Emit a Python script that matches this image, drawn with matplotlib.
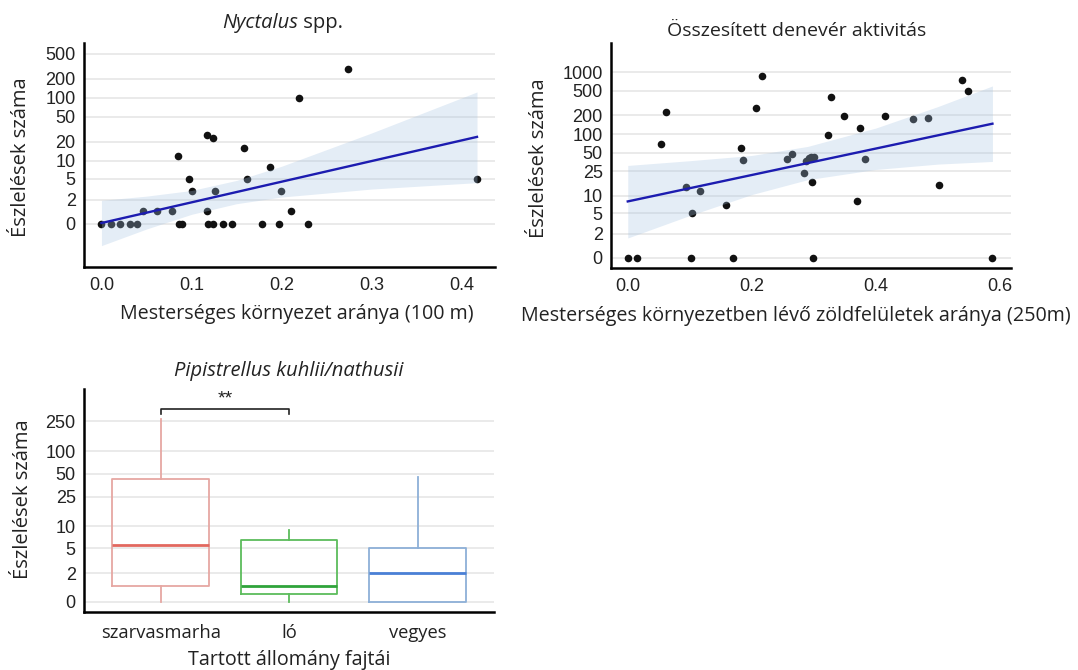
import matplotlib
matplotlib.use("Agg")
import matplotlib.pyplot as plt
import numpy as np

# --- Nyctalus spp. (panel 1) ---
nyc_x = [0.000, 0.011, 0.021, 0.032, 0.039, 0.086, 0.089, 0.118, 0.124, 0.135, 0.145, 0.178, 0.197, 0.229,
         0.046, 0.062, 0.078, 0.117, 0.210,
         0.100, 0.126, 0.199,
         0.097, 0.162, 0.417,
         0.187, 0.085, 0.158, 0.117, 0.124, 0.219, 0.274]
nyc_y = [0, 0, 0, 0, 0, 0, 0, 0, 0, 0, 0, 0, 0, 0,
         1, 1, 1, 1, 1,
         3, 3, 3,
         5, 5, 5,
         8, 12, 16, 26, 23, 100, 290]
nyc_fit_x = [0.0, 0.417]
nyc_fit_y = [0.07, 24]
nyc_ci_x = [0.0, 0.05, 0.1, 0.15, 0.2, 0.3, 0.417]
nyc_ci_lo = [-1.75, -0.37, 0.72, 1.62, 2.3, 3.3, 4.3]
nyc_ci_hi = [1.95, 2.4, 3.1, 4.7, 8.1, 27.7, 124]
nyc_ticks = [0, 2, 5, 10, 20, 50, 100, 200, 500]
nyc_xticks = [0.0, 0.1, 0.2, 0.3, 0.4]

# --- Összesített denevér aktivitás (panel 2) ---
all_x = [0.000, 0.0145, 0.102, 0.169, 0.299, 0.588,
         0.053, 0.062, 0.094, 0.116, 0.104, 0.159, 0.182, 0.186, 0.206, 0.216,
         0.256, 0.265, 0.284, 0.288, 0.292, 0.296, 0.300, 0.297,
         0.323, 0.327, 0.349, 0.375, 0.382, 0.369, 0.415, 0.460, 0.484, 0.502, 0.539, 0.548]
all_y = [0, 0, 0, 0, 0, 0,
         70, 230, 14, 12, 5, 7, 60, 38, 265, 880,
         39, 48, 23, 37, 41, 42, 42, 17,
         97, 395, 195, 127, 40, 8, 195, 173, 185, 15, 750, 490]
all_fit_x = [0.0, 0.588]
all_fit_y = [8, 147]
all_ci_x = [0.0, 0.1, 0.2, 0.29, 0.4, 0.5, 0.588]
all_ci_lo = [1.6, 4.6, 10.4, 18.2, 26.7, 32.6, 36]
all_ci_hi = [31, 37, 45, 63, 125, 278, 600]
all_ticks = [0, 2, 5, 10, 25, 50, 100, 200, 500, 1000]
all_xticks = [0.0, 0.2, 0.4, 0.6]

# --- Pipistrellus kuhlii/nathusii (panel 3) ---
cats = ["szarvasmarha", "ló", "vegyes"]
box_whislo = [0, 0, 0]
box_q1 = [1, 0.5, 0]
box_med = [5.5, 1, 2]
box_q3 = [43, 6.5, 5]
box_whishi = [270, 9, 45]
box_edge = ["#e6a7a2", "#5cbc5c", "#8db0d8"]
box_median = ["#e2685f", "#2fa33a", "#4a80d6"]
pip_ticks = [0, 2, 5, 10, 25, 50, 100, 250]
sig_y = [313, 365]  # bracket tick bottom / top


def fwd(y):
    # pseudo-log axis: asinh(y / 2)
    return np.arcsinh(np.asarray(y, dtype=float) / 2)


def inv(t):
    return 2 * np.sinh(t)


LABEL_FONT = "Open Sans"
TICK_FONT = "Liberation Sans"
TXT = "#222222"


def style_axis(ax, yticks):
    ax.set_yscale("function", functions=(fwd, inv))
    ax.set_yticks(yticks)
    ax.set_yticklabels([str(t) for t in yticks])
    ax.yaxis.set_minor_locator(matplotlib.ticker.NullLocator())
    ax.grid(axis="y", color="#e6e6e6", lw=1.2)
    ax.set_axisbelow(True)
    for s in ["top", "right"]:
        ax.spines[s].set_visible(False)
    for s in ["left", "bottom"]:
        ax.spines[s].set_linewidth(1.8)
        ax.spines[s].set_color("black")
    ax.tick_params(length=0, labelsize=13, colors=TXT)
    ax.tick_params(axis="y", pad=6)
    for lab in ax.get_xticklabels() + ax.get_yticklabels():
        lab.set_fontfamily(TICK_FONT)


fig = plt.figure(figsize=(10.78, 6.70), dpi=100)

# ---------------- panel 1 ----------------
ax1 = fig.add_axes([0.0779, 0.6015, 0.3813, 0.3343])
ax1.scatter(nyc_x, nyc_y, s=30, color="#111111", zorder=2, linewidths=0)
ax1.fill_between(nyc_ci_x, nyc_ci_lo, nyc_ci_hi, color="#a6c4e3", alpha=0.3, lw=0, zorder=3)
ax1.plot(nyc_fit_x, nyc_fit_y, color="#1c1cb0", lw=1.7, zorder=4)
style_axis(ax1, nyc_ticks)
ax1.set_xticks(nyc_xticks)
ax1.set_xticklabels([f"{v:.1f}" for v in nyc_xticks], fontfamily=TICK_FONT)
ax1.tick_params(axis="x", pad=7)
ax1.set_xlim(-0.0194, 0.437)
ax1.set_ylim(-4.6, 740)
ax1.text(0.52, 1.09, "Nyctalus", style="italic", ha="right", va="center",
         transform=ax1.transAxes, fontsize=14.5, fontfamily=LABEL_FONT, color=TXT)
ax1.text(0.52, 1.09, " spp.", ha="left", va="center",
         transform=ax1.transAxes, fontsize=14.5, fontfamily=LABEL_FONT, color=TXT)
ax1.set_xlabel("Mesterséges környezet aránya (100 m)", fontsize=14.2, fontfamily=LABEL_FONT, color=TXT)
ax1.xaxis.set_label_coords(0.518, -0.165)
ax1.set_ylabel("Észlelések száma", fontsize=14.5, fontfamily=LABEL_FONT, color=TXT)
ax1.yaxis.set_label_coords(-0.13, 0.49)

# ---------------- panel 2 ----------------
ax2 = fig.add_axes([0.5668, 0.600, 0.3711, 0.3358])
ax2.scatter(all_x, all_y, s=30, color="#111111", zorder=2, linewidths=0)
ax2.fill_between(all_ci_x, all_ci_lo, all_ci_hi, color="#a6c4e3", alpha=0.3, lw=0, zorder=3)
ax2.plot(all_fit_x, all_fit_y, color="#1c1cb0", lw=1.7, zorder=4)
style_axis(ax2, all_ticks)
ax2.set_xticks(all_xticks)
ax2.set_xticklabels([f"{v:.1f}" for v in all_xticks], fontfamily=TICK_FONT)
ax2.tick_params(axis="x", pad=7)
ax2.set_xlim(-0.027, 0.618)
ax2.set_ylim(-0.79, 2970)
ax2.text(0.465, 1.055, "Összesített denevér aktivitás", ha="center", va="center",
         transform=ax2.transAxes, fontsize=14, fontfamily=LABEL_FONT, color=TXT)
ax2.set_xlabel("Mesterséges környezetben lévő zöldfelületek aránya (250m)", fontsize=14.2,
               fontfamily=LABEL_FONT, color=TXT)
ax2.xaxis.set_label_coords(0.4625, -0.17)
ax2.set_ylabel("Észlelések száma", fontsize=14.5, fontfamily=LABEL_FONT, color=TXT)
ax2.yaxis.set_label_coords(-0.155, 0.49)

# ---------------- panel 3 ----------------
ax3 = fig.add_axes([0.0779, 0.0866, 0.3803, 0.3328])
stats = []
for i, c in enumerate(cats):
    stats.append(dict(label=c, whislo=box_whislo[i], q1=box_q1[i], med=box_med[i],
                      q3=box_q3[i], whishi=box_whishi[i], fliers=[]))
bp = ax3.bxp(stats, positions=range(len(cats)), widths=0.75, showcaps=False,
             showfliers=False, manage_ticks=False)
for i in range(len(cats)):
    bp["boxes"][i].set_color(box_edge[i])
    bp["boxes"][i].set_linewidth(1.3)
    bp["medians"][i].set_color(box_median[i])
    bp["medians"][i].set_linewidth(2.0)
    for w in bp["whiskers"][2 * i:2 * i + 2]:
        w.set_color(box_edge[i])
        w.set_linewidth(1.3)
style_axis(ax3, pip_ticks)
ax3.set_xticks(range(len(cats)))
ax3.set_xticklabels(cats, fontfamily=LABEL_FONT, fontsize=13.2)
ax3.tick_params(axis="x", pad=9)
ax3.set_xlim(-0.597, 2.594)
ax3.set_ylim(-0.62, 672)
# significance bracket
ax3.plot([0, 0, 1, 1], [sig_y[0], sig_y[1], sig_y[1], sig_y[0]], color=TXT, lw=1.2)
ax3.text(0.5, 490, "**", ha="center", va="center", fontsize=14, fontfamily=TICK_FONT, color=TXT)
ax3.text(0.5, 1.08, "Pipistrellus kuhlii/nathusii", style="italic", ha="center", va="center",
         transform=ax3.transAxes, fontsize=14.5, fontfamily=LABEL_FONT, color=TXT)
ax3.set_xlabel("Tartott állomány fajtái", fontsize=14.2, fontfamily=LABEL_FONT, color=TXT)
ax3.xaxis.set_label_coords(0.5, -0.17)
ax3.set_ylabel("Észlelések száma", fontsize=14.5, fontfamily=LABEL_FONT, color=TXT)
ax3.yaxis.set_label_coords(-0.125, 0.507)

fig.savefig("out.png", dpi=100)
plt.close(fig)
